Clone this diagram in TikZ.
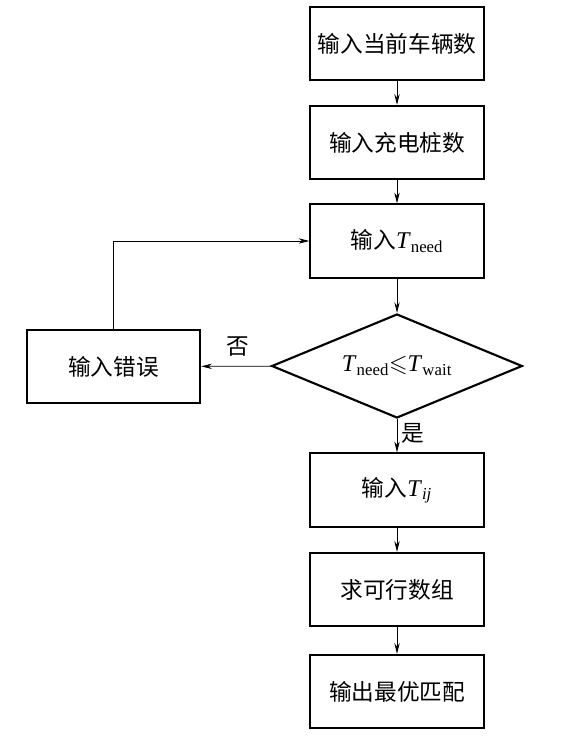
\documentclass[tikz,border=0pt]{standalone}
\usepackage{amssymb}
\usepackage{fontspec}
\setmainfont{Liberation Serif}
\newfontfamily\cjk{Noto Sans CJK SC}
\usetikzlibrary{shapes.geometric,arrows.meta}
\tikzstyle{proc} = [draw=black, line width=1.6pt, minimum width=130pt, minimum height=55pt, inner sep=0pt, font={\fontsize{17}{20}\selectfont\cjk}]
\tikzstyle{cond} = [proc, diamond, aspect=2.4, minimum width=188pt, minimum height=78pt, font={\fontsize{18}{21}\selectfont}]
\tikzstyle{flow} = [line width=0.6pt, -{Stealth[length=8pt,width=4pt]}]
\tikzstyle{note} = [font={\fontsize{17}{20}\selectfont\cjk}]

\begin{document}
\begin{tikzpicture}[x=0.75pt,y=-0.75pt]
    \useasboundingbox (0,0) rectangle (568,736);
    \node[proc](1) at (397,43.5){输入当前车辆数};
    \node[proc](2) at (397,142.5){输入充电桩数};
    \node[proc](3) at (397,241){输入{\rmfamily\fontsize{18}{21}\selectfont\textit{T}\textsubscript{need}}};
    \node[cond](4) at (397,366){\textit{T}\textsubscript{need}$\leqslant$\textit{T}\textsubscript{wait}};
    \node[proc](5) at (113.5,366.5){输入错误};
    \node[proc](6) at (397,490){输入{\rmfamily\fontsize{18}{21}\selectfont\textit{T}\textsubscript{\textit{ij}}}};
    \node[proc](7) at (397,589.5){求可行数组};
    \node[proc](8) at (397,691.5){输出最优匹配};
    \draw[flow](1)--(2);
    \draw[flow](2)--(3);
    \draw[flow](3)--(4);
    \draw[flow](4)--(6);
    \draw[flow](6)--(7);
    \draw[flow](7)--(8);
    \draw[flow](4)--(5);
    \draw[flow](5.north)|-(3.west);
    \node[note](no) at (238,347){否};
    \node[note](yes) at (413,433){是};
  \end{tikzpicture}
\end{document}
